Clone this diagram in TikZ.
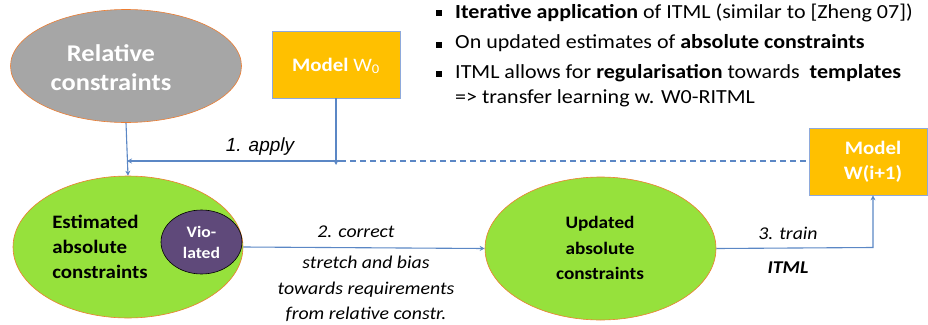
\documentclass[tikz,border=0pt]{standalone}
\usepackage{fontspec}
\setmainfont{Carlito}[FakeStretch=1.1]
\newfontfamily\arialf{Liberation Sans}
\usetikzlibrary{shapes.geometric,arrows.meta}
\definecolor{relgray}{HTML}{A6A6A6}
\definecolor{ellborder}{HTML}{ED7D31}
\definecolor{lime}{RGB}{150,225,60}
\definecolor{violet}{HTML}{5F497A}
\definecolor{gold}{HTML}{FFC000}
\definecolor{boxborder}{HTML}{8EA9DB}
\definecolor{arrblue}{HTML}{5B87C5}
\tikzset{
  ell/.style={ellipse, draw=ellborder, line width=0.6pt, inner sep=0pt},
  modelbox/.style={rectangle, fill=gold, draw=boxborder, line width=0.7pt, inner sep=0pt},
  arr/.style={draw=arrblue, line width=1.1pt, -{Stealth[length=5pt,width=5pt]}},
  dashline/.style={draw=arrblue, line width=1.1pt, dash pattern=on 6pt off 4pt},
  whitebold/.style={text=white, font=\bfseries, align=center},
  blackbold/.style={text=black, font=\bfseries, align=center},
  lbl/.style={font=\fontsize{18}{25.5}\selectfont\itshape, align=center, inner sep=0pt},
  bullettext/.style={anchor=west, inner sep=0pt, font=\fontsize{20}{25}\selectfont, align=left},
  bulletsq/.style={fill=black, minimum size=6pt, inner sep=0pt, rectangle},
}
\begin{document}
\begin{tikzpicture}[x=1pt,y=-1pt]
\useasboundingbox (0,0) rectangle (928,324);
% nodes
\node[ell, fill=relgray, minimum width=231pt, minimum height=113pt] (rel) at (126,66) {};
\node[whitebold, font=\fontsize{24}{29}\selectfont\bfseries] (reltxt) at (111,68) {Relative\\constraints};
\node[modelbox, minimum width=128pt, minimum height=67pt] (w0) at (336,64.5) {};
\node[text=white, font=\fontsize{19}{22}\selectfont] (w0txt) at (336,66) {\textbf{Model} W\textsubscript{0}};
\node[ell, fill=lime, minimum width=230pt, minimum height=142pt] (est) at (128,247) {};
\node[blackbold, font=\fontsize{19}{25}\selectfont\bfseries, align=left] (esttxt) at (100,247) {Estimated\\absolute\\constraints};
\node[ellipse, fill=violet, draw=black, line width=0.6pt, minimum width=81pt, minimum height=64pt, inner sep=0pt] (vio) at (201.5,242) {};
\node[whitebold, font=\fontsize{16}{21}\selectfont\bfseries] (viotxt) at (201.5,242) {Vio-\\lated};
\node[ell, fill=lime, minimum width=231pt, minimum height=143pt] (upd) at (600.5,248.5) {};
\node[blackbold, font=\fontsize{17.5}{25.5}\selectfont\bfseries] (updtxt) at (600,248) {Updated\\absolute\\constraints};
\node[modelbox, minimum width=118pt, minimum height=67pt] (wi) at (868,161.5) {};
\node[whitebold, font=\fontsize{19}{25}\selectfont\bfseries] (witxt) at (873,162) {Model\\W(i+1)};
% connectors
\coordinate (j) at (340,161);
\draw[arr] (rel.south) -- (est.north);
\draw[arr] (j) -- ([xshift=1pt]rel.south |- j);
\draw[arr] (w0.south) -- ([yshift=-4pt]w0.south |- j);
\draw[dashline] (j) -- (wi.west |- j);
\draw[arr] (est.east) -- (upd.west);
\coordinate (bend) at (873,247.5);
\draw[arr] (upd.east) -- (bend) -- (bend |- wi.south);
% labels
\node[font=\fontsize{19}{22}\selectfont\arialf\itshape, inner sep=0pt] (apply) at (260,147) {1. apply};
\node[lbl] (corr) at (356,232) {2. correct};
\node[lbl] (stretch) at (366,289) {stretch and bias\\towards requirements\\from relative constr.};
\node[lbl] (train) at (788,233) {3. train};
\node[lbl, font=\fontsize{18}{22}\selectfont\bfseries\itshape] (itml) at (788,268) {ITML};
% bullets
\node[bulletsq] (b1) at (438.5,13) {};
\node[bulletsq] (b2) at (438.5,44.5) {};
\node[bulletsq] (b3) at (438.5,74) {};
\node[bullettext] (t1) at (455,13) {\textbf{Iterative application} of ITML (similar to [Zheng 07])};
\node[bullettext] (t2) at (455,43.5) {On updated estimates of \textbf{absolute constraints}};
\node[bullettext] (t3) at (455,73) {ITML allows for \textbf{regularisation} towards\ \ \textbf{templates}};
\node[bullettext] (t4) at (455,98) {=> transfer learning w. W0-RITML};
\end{tikzpicture}
\end{document}
